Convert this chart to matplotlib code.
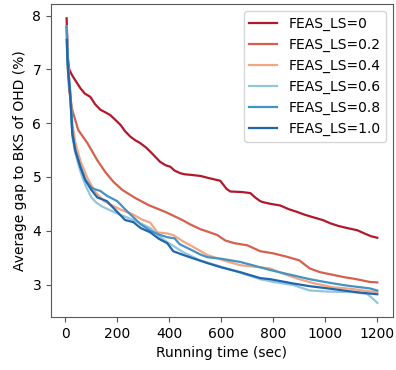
import numpy as np
import matplotlib.pyplot as plt

# values, (time in sec, avg gap %)
t_ls0 = [5, 10, 15, 25, 38, 58, 75, 96, 115, 135, 155, 173, 195, 212, 230, 250,
         270, 288, 310, 327, 345, 365, 385, 404, 420, 442, 460, 481, 500, 519,
         560, 596, 620, 635, 680, 712, 730, 750, 762, 790, 827, 860, 892, 920,
         954, 990, 1019, 1050, 1085, 1123, 1146, 1175, 1200]
g_ls0 = [7.95, 7.2, 7.0, 6.9, 6.8, 6.65, 6.55, 6.49, 6.35, 6.25, 6.2, 6.15, 6.05,
         5.97, 5.85, 5.75, 5.68, 5.63, 5.55, 5.47, 5.38, 5.28, 5.22, 5.19, 5.12,
         5.07, 5.05, 5.04, 5.03, 5.02, 4.97, 4.93, 4.78, 4.73, 4.72, 4.70, 4.62,
         4.55, 4.53, 4.50, 4.47, 4.40, 4.35, 4.30, 4.25, 4.20, 4.14, 4.09, 4.05,
         4.01, 3.96, 3.90, 3.87]

t_ls02 = [5, 10, 15, 27, 50, 85, 123, 154, 185, 219, 269, 319, 385, 450, 480,
          519, 550, 585, 615, 650, 700, 750, 800, 850, 900, 940, 980, 1030,
          1070, 1120, 1170, 1200]
g_ls02 = [7.8, 7.0, 6.6, 6.24, 5.87, 5.63, 5.31, 5.09, 4.91, 4.76, 4.61, 4.48,
          4.35, 4.2, 4.12, 4.03, 3.98, 3.92, 3.82, 3.77, 3.73, 3.62, 3.58, 3.52,
          3.45, 3.3, 3.23, 3.18, 3.14, 3.1, 3.05, 3.04]

t_ls04 = [5, 10, 19, 27, 38, 58, 85, 115, 150, 180, 210, 262, 290, 327, 354,
          392, 415, 454, 492, 546, 608, 673, 750, 788, 827, 900, 960, 1030, 1100,
          1160, 1200]
g_ls04 = [7.8, 7.1, 6.6, 6.0, 5.65, 5.3, 4.98, 4.72, 4.55, 4.47, 4.4, 4.3, 4.22,
          4.15, 3.97, 3.95, 3.92, 3.8, 3.7, 3.55, 3.45, 3.36, 3.32, 3.3, 3.22, 3.1,
          3.02, 2.95, 2.92, 2.88, 2.86]

t_ls06 = [5, 10, 19, 27, 38, 58, 77, 100, 120, 142, 200, 262, 327, 360, 392, 454,
          519, 600, 673, 750, 800, 877, 940, 1008, 1100, 1160, 1180, 1200]
g_ls06 = [7.8, 7.1, 6.5, 5.75, 5.45, 5.1, 4.85, 4.62, 4.52, 4.45, 4.32, 4.2, 4.05,
          3.9, 3.79, 3.6, 3.45, 3.33, 3.22, 3.1, 3.05, 2.99, 2.89, 2.87, 2.86,
          2.83, 2.75, 2.66]

t_ls08 = [5, 10, 19, 27, 38, 58, 77, 100, 115, 135, 160, 200, 230, 262, 290, 327,
          360, 392, 420, 440, 470, 519, 546, 600, 673, 720, 788, 877, 940, 1008,
          1070, 1135, 1170, 1200]
g_ls08 = [7.8, 7.1, 6.55, 5.85, 5.5, 5.2, 4.95, 4.8, 4.77, 4.74, 4.65, 4.55, 4.4,
          4.25, 4.12, 4.0, 3.93, 3.88, 3.86, 3.75, 3.68, 3.56, 3.51, 3.48, 3.42,
          3.36, 3.27, 3.17, 3.1, 3.04, 2.99, 2.95, 2.93, 2.89]

t_ls10 = [5, 10, 19, 27, 38, 58, 77, 100, 123, 160, 200, 230, 262, 290, 327, 360,
          392, 415, 454, 490, 546, 600, 673, 750, 788, 877, 940, 1008, 1070, 1135,
          1200]
g_ls10 = [7.55, 7.0, 6.5, 5.8, 5.5, 5.18, 4.94, 4.76, 4.62, 4.55, 4.35, 4.2, 4.16,
          4.05, 3.97, 3.85, 3.77, 3.62, 3.55, 3.49, 3.4, 3.32, 3.23, 3.12, 3.1,
          3.02, 2.97, 2.93, 2.89, 2.85, 2.82]

labels = ['FEAS_LS=0', 'FEAS_LS=0.2', 'FEAS_LS=0.4',
          'FEAS_LS=0.6', 'FEAS_LS=0.8', 'FEAS_LS=1.0']
colors = ['#b2182b', '#d6604d', '#f4a582', '#92c5de', '#4393c3', '#2166ac']

series = [(t_ls0, g_ls0), (t_ls02, g_ls02), (t_ls04, g_ls04),
          (t_ls06, g_ls06), (t_ls08, g_ls08), (t_ls10, g_ls10)]

fig = plt.figure(figsize=(3.96, 3.70), dpi=100)
ax = fig.add_axes([0.129, 0.143, 0.863, 0.846])

for (t, g), lab, c in zip(series, labels, colors):
    ax.plot(t, g, color=c, lw=1.6, label=lab)

ax.set_xticks([0, 200, 400, 600, 800, 1000, 1200])
ax.set_yticks([3, 4, 5, 6, 7, 8])
ax.set_xlabel('Running time (sec)')
ax.set_ylabel('Average gap to BKS of OHD (%)')

for s in ax.spines.values():
    s.set_color('0.35')
ax.tick_params(colors='0.35', labelcolor='black')

ax.legend(loc='upper right')

fig.savefig('out.png', dpi=100)
